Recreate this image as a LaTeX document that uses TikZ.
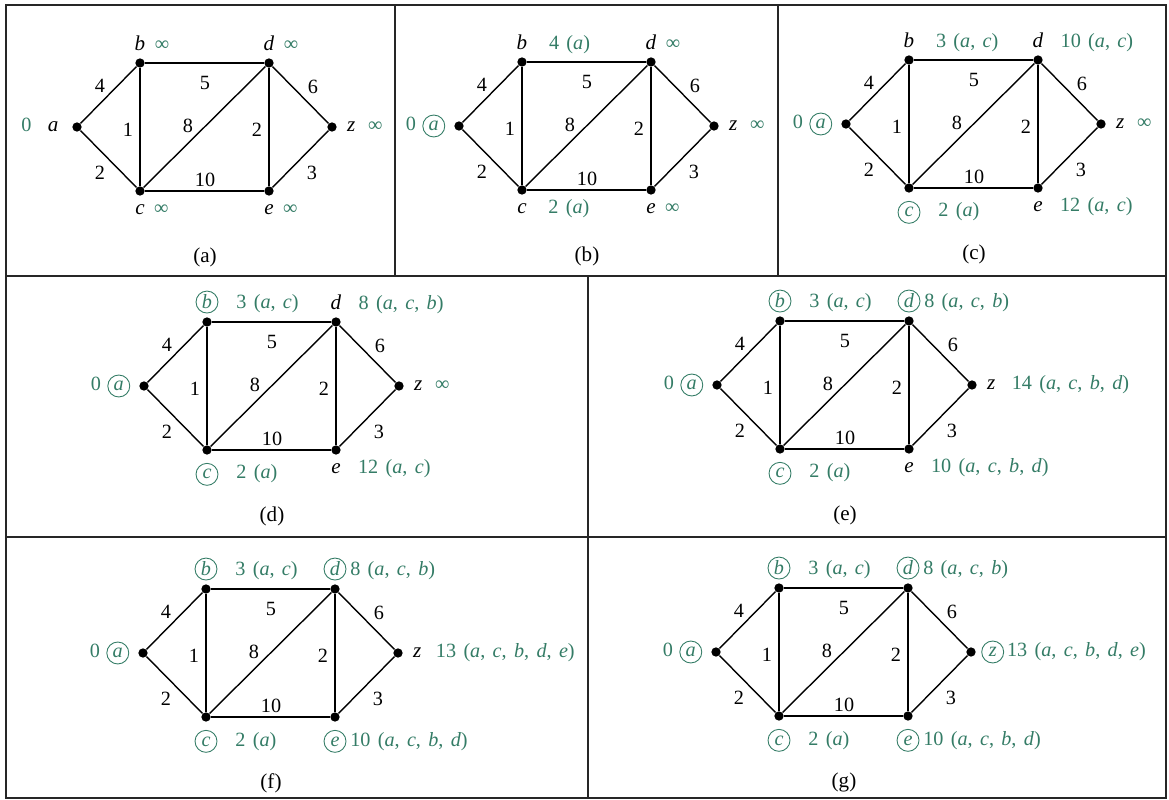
\documentclass[tikz,border=0pt]{standalone}
\usepackage{fontspec}
\setmainfont{Liberation Serif}
\newfontfamily\distfont{Liberation Serif}[WordSpace=1.45]
\usetikzlibrary{positioning}
\definecolor{labgreen}{RGB}{52,124,102}

\newcommand{\vn}[1]{\textit{#1}}
% the weighted graph, origin at vertex a
\newcommand{\dijkgraph}{%
  \node[vtx] (a) at (0,0) {};
  \node[vtx] (b) at (63,-64) {};
  \node[vtx] (c) at (63,64) {};
  \node[vtx] (d) at (192,-64) {};
  \node[vtx] (e) at (192,64) {};
  \node[vtx] (z) at (255,0) {};
  \draw[link] (a) -- (b);
  \draw[link] (a) -- (c);
  \draw[link] (b) -- (c);
  \draw[link] (b) -- (d);
  \draw[link] (c) -- (d);
  \draw[link] (c) -- (e);
  \draw[link] (d) -- (e);
  \draw[link] (d) -- (z);
  \draw[link] (e) -- (z);
  \node[wt] (w1) at (23,-41) {4};
  \node[wt] (w2) at (23,46) {2};
  \node[wt] (w3) at (51,3) {1};
  \node[wt] (w4) at (128,-44) {5};
  \node[wt] (w5) at (111,-1) {8};
  \node[wt] (w6) at (180,3) {2};
  \node[wt] (w7) at (236,-40) {6};
  \node[wt] (w8) at (235,46) {3};
  \node[wt] (w9) at (128,53) {10};
}

\begin{document}
\begin{tikzpicture}[x=0.02cm, y=-0.02cm,
  font=\fontsize{11.5}{14}\selectfont,
  vtx/.style={circle, fill=black, inner sep=0pt, minimum size=5.3pt},
  link/.style={line width=0.8pt},
  wt/.style={inner sep=0pt},
  vname/.style={inner sep=1pt, font=\fontsize{12}{14}\selectfont},
  vdone/.style={circle, draw=labgreen, text=labgreen, line width=0.5pt, inner sep=0pt, minimum size=12.5pt},
  dist/.style={text=labgreen, inner sep=0pt, font=\fontsize{11.5}{14}\distfont},
  panelcap/.style={inner sep=0pt, font=\fontsize{12}{14}\selectfont},
  panelline/.style={line width=0.9pt, black!85}]
\useasboundingbox (0,0) rectangle (1169,800);

% panel frame
\draw[panelline] (6,5) rectangle (1166,798);
\draw[panelline] (6,276) -- (1166,276);
\draw[panelline] (6,537) -- (1166,537);
\draw[panelline] (395,5) -- (395,276);
\draw[panelline] (778,5) -- (778,276);
\draw[panelline] (588,276) -- (588,798);

% (a)
\begin{scope}[shift={(77,127)}, name prefix=pa-]
  \dijkgraph
  \node[vname, left=6.5pt of a] (an) {\vn{a}};
  \node[dist, left=8pt of an.base west, anchor=base east] (ad) {0};
  \node[vname, above=3pt of b] (bn) {\vn{b}};
  \node[dist, right=4pt of bn.base east, anchor=base west] (bd) {∞};
  \node[vname, below=3.5pt of c] (cn) {\vn{c}};
  \node[dist, right=4pt of cn.base east, anchor=base west] (cd) {∞};
  \node[vname, above=3pt of d] (dn) {\vn{d}};
  \node[dist, right=4pt of dn.base east, anchor=base west] (dd) {∞};
  \node[vname, below=3.5pt of e] (en) {\vn{e}};
  \node[dist, right=4pt of en.base east, anchor=base west] (ed) {∞};
  \node[vname, right=4.5pt of z] (zn) {\vn{z}};
  \node[dist, right=6pt of zn.base east, anchor=base west] (zd) {∞};
  \node[panelcap] (cap) at (128,130) {(a)};
\end{scope}

% (b)
\begin{scope}[shift={(459,126)}, name prefix=pb-]
  \dijkgraph
  \node[vdone, left=5pt of a] (an) {\vn{a}};
  \node[dist, left=3.5pt of an.base west, anchor=base east] (ad) {0};
  \node[vname, above=3pt of b] (bn) {\vn{b}};
  \node[dist, right=11pt of bn.base east, anchor=base west] (bd) {4 (\vn{a})};
  \node[vname, below=3.5pt of c] (cn) {\vn{c}};
  \node[dist, right=11pt of cn.base east, anchor=base west] (cd) {2 (\vn{a})};
  \node[vname, above=3pt of d] (dn) {\vn{d}};
  \node[dist, right=4pt of dn.base east, anchor=base west] (dd) {∞};
  \node[vname, below=3.5pt of e] (en) {\vn{e}};
  \node[dist, right=4pt of en.base east, anchor=base west] (ed) {∞};
  \node[vname, right=4.5pt of z] (zn) {\vn{z}};
  \node[dist, right=6pt of zn.base east, anchor=base west] (zd) {∞};
  \node[panelcap] (cap) at (128,130) {(b)};
\end{scope}

% (c)
\begin{scope}[shift={(846,124)}, name prefix=pc-]
  \dijkgraph
  \node[vdone, left=5pt of a] (an) {\vn{a}};
  \node[dist, left=3.5pt of an.base west, anchor=base east] (ad) {0};
  \node[vname, above=3pt of b] (bn) {\vn{b}};
  \node[dist, right=11pt of bn.base east, anchor=base west] (bd) {3 (\vn{a}, \vn{c})};
  \node[vdone, below=4.5pt of c] (cn) {\vn{c}};
  \node[dist, right=10pt of cn.base east, anchor=base west] (cd) {2 (\vn{a})};
  \node[vname, above=3pt of d] (dn) {\vn{d}};
  \node[dist, right=8.5pt of dn.base east, anchor=base west] (dd) {10 (\vn{a}, \vn{c})};
  \node[vname, below=3.5pt of e] (en) {\vn{e}};
  \node[dist, right=8.5pt of en.base east, anchor=base west] (ed) {12 (\vn{a}, \vn{c})};
  \node[vname, right=4.5pt of z] (zn) {\vn{z}};
  \node[dist, right=6pt of zn.base east, anchor=base west] (zd) {∞};
  \node[panelcap] (cap) at (128,130) {(c)};
\end{scope}

% (d)
\begin{scope}[shift={(144,386)}, name prefix=pd-]
  \dijkgraph
  \node[vdone, left=5pt of a] (an) {\vn{a}};
  \node[dist, left=3.5pt of an.base west, anchor=base east] (ad) {0};
  \node[vdone, above=2pt of b] (bn) {\vn{b}};
  \node[dist, right=10pt of bn.base east, anchor=base west] (bd) {3 (\vn{a}, \vn{c})};
  \node[vdone, below=4.5pt of c] (cn) {\vn{c}};
  \node[dist, right=10pt of cn.base east, anchor=base west] (cd) {2 (\vn{a})};
  \node[vname, above=3pt of d] (dn) {\vn{d}};
  \node[dist, right=8.5pt of dn.base east, anchor=base west] (dd) {8 (\vn{a}, \vn{c}, \vn{b})};
  \node[vname, below=3.5pt of e] (en) {\vn{e}};
  \node[dist, right=8.5pt of en.base east, anchor=base west] (ed) {12 (\vn{a}, \vn{c})};
  \node[vname, right=4.5pt of z] (zn) {\vn{z}};
  \node[dist, right=6pt of zn.base east, anchor=base west] (zd) {∞};
  \node[panelcap] (cap) at (128,130) {(d)};
\end{scope}

% (e)
\begin{scope}[shift={(717,385)}, name prefix=pe-]
  \dijkgraph
  \node[vdone, left=5pt of a] (an) {\vn{a}};
  \node[dist, left=3.5pt of an.base west, anchor=base east] (ad) {0};
  \node[vdone, above=2pt of b] (bn) {\vn{b}};
  \node[dist, right=10pt of bn.base east, anchor=base west] (bd) {3 (\vn{a}, \vn{c})};
  \node[vdone, below=4.5pt of c] (cn) {\vn{c}};
  \node[dist, right=10pt of cn.base east, anchor=base west] (cd) {2 (\vn{a})};
  \node[vdone, above=2pt of d] (dn) {\vn{d}};
  \node[dist, right=2pt of dn.base east, anchor=base west] (dd) {8 (\vn{a}, \vn{c}, \vn{b})};
  \node[vname, below=3.5pt of e] (en) {\vn{e}};
  \node[dist, right=8.5pt of en.base east, anchor=base west] (ed) {10 (\vn{a}, \vn{c}, \vn{b}, \vn{d})};
  \node[vname, right=4.5pt of z] (zn) {\vn{z}};
  \node[dist, right=8pt of zn.base east, anchor=base west] (zd) {14 (\vn{a}, \vn{c}, \vn{b}, \vn{d})};
  \node[panelcap] (cap) at (128,130) {(e)};
\end{scope}

% (f)
\begin{scope}[shift={(143,653)}, name prefix=pf-]
  \dijkgraph
  \node[vdone, left=5pt of a] (an) {\vn{a}};
  \node[dist, left=3.5pt of an.base west, anchor=base east] (ad) {0};
  \node[vdone, above=2pt of b] (bn) {\vn{b}};
  \node[dist, right=10pt of bn.base east, anchor=base west] (bd) {3 (\vn{a}, \vn{c})};
  \node[vdone, below=4.5pt of c] (cn) {\vn{c}};
  \node[dist, right=10pt of cn.base east, anchor=base west] (cd) {2 (\vn{a})};
  \node[vdone, above=2pt of d] (dn) {\vn{d}};
  \node[dist, right=2pt of dn.base east, anchor=base west] (dd) {8 (\vn{a}, \vn{c}, \vn{b})};
  \node[vdone, below=4.5pt of e] (en) {\vn{e}};
  \node[dist, right=2pt of en.base east, anchor=base west] (ed) {10 (\vn{a}, \vn{c}, \vn{b}, \vn{d})};
  \node[vname, right=4.5pt of z] (zn) {\vn{z}};
  \node[dist, right=7pt of zn.base east, anchor=base west] (zd) {13 (\vn{a}, \vn{c}, \vn{b}, \vn{d}, \vn{e})};
  \node[panelcap] (cap) at (128,130) {(f)};
\end{scope}

% (g)
\begin{scope}[shift={(716,652)}, name prefix=pg-]
  \dijkgraph
  \node[vdone, left=5pt of a] (an) {\vn{a}};
  \node[dist, left=3.5pt of an.base west, anchor=base east] (ad) {0};
  \node[vdone, above=2pt of b] (bn) {\vn{b}};
  \node[dist, right=10pt of bn.base east, anchor=base west] (bd) {3 (\vn{a}, \vn{c})};
  \node[vdone, below=4.5pt of c] (cn) {\vn{c}};
  \node[dist, right=10pt of cn.base east, anchor=base west] (cd) {2 (\vn{a})};
  \node[vdone, above=2pt of d] (dn) {\vn{d}};
  \node[dist, right=2pt of dn.base east, anchor=base west] (dd) {8 (\vn{a}, \vn{c}, \vn{b})};
  \node[vdone, below=4.5pt of e] (en) {\vn{e}};
  \node[dist, right=2pt of en.base east, anchor=base west] (ed) {10 (\vn{a}, \vn{c}, \vn{b}, \vn{d})};
  \node[vdone, right=3pt of z] (zn) {\vn{z}};
  \node[dist, right=1.5pt of zn.base east, anchor=base west] (zd) {13 (\vn{a}, \vn{c}, \vn{b}, \vn{d}, \vn{e})};
  \node[panelcap] (cap) at (128,130) {(g)};
\end{scope}
\end{tikzpicture}
\end{document}
